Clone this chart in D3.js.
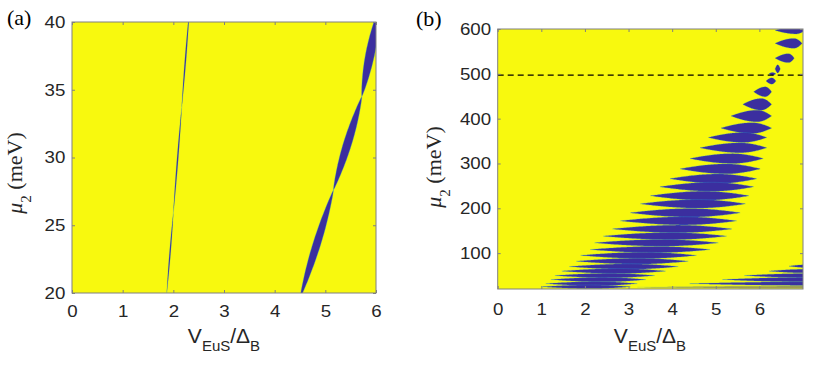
<!DOCTYPE html>
<html><head><meta charset="utf-8">
<script src="https://cdn.jsdelivr.net/npm/d3@7"></script>
<style>body{margin:0;background:#fff}svg{display:block}</style>
</head><body>
<script>
// ---------- DATA ----------
// Panel (a): thin resonance line (centre V, mu at pinch points, max half-width in V)
const aLineV  = [1.87, 2.00, 2.165, 2.32];
const aLineMu = [20, 25.9, 33.7, 41];
const aLineW  = [0.012, 0.013, 0.013];
// Panel (a): broad band
const aBandV  = [4.50, 5.16, 5.72, 6.06];
const aBandMu = [19.6, 27.6, 34.5, 41];
const aBandW  = [0.08, 0.085, 0.09];
const aXTicks = [0,1,2,3,4,5,6];
const aYTicks = [20,25,30,35,40];

// Panel (b): main fan of lenses
const bMu    = [597,568,535,511,500,484,460,432,406,379,358,335,311,288,266,248,228,210,190,172,154,138,123,108,95,82,70,60,50,41,32,25];
const bLeft  = [6.36,6.36,6.36,6.36,6.22,6.15,5.87,5.62,5.35,5.12,4.83,4.64,4.41,4.18,3.95,3.72,3.50,3.27,3.04,2.81,2.63,2.42,2.22,2.12,1.90,1.80,1.64,1.47,1.31,1.22,1.10,1.00];
const bRight = [7.05,6.98,6.80,6.48,6.38,6.38,6.28,6.28,6.28,6.28,6.17,6.17,6.09,6.02,5.94,5.87,5.76,5.68,5.56,5.48,5.37,5.25,5.06,4.87,4.56,4.37,4.14,3.85,3.60,3.40,3.20,3.05];
const bHalf  = [8,11,10,9,3,7,11,13,13,12,11,11,11,11,10.5,10,10,9.5,9.5,9,8.5,8,7.5,7,7,6.5,6,5.5,5,5,4.5,4];
const bPeak  = [0.7,0.7,0.7,0.5,0.5,0.6,0.65,0.65,0.65,0.62,0.6,0.6,0.58,0.58,0.56,0.56,0.55,0.55,0.55,0.55,0.55,0.55,0.55,0.55,0.55,0.55,0.55,0.55,0.55,0.55,0.55,0.55];
// Panel (b): lower-right family
const cMu    = [71,60,50,41,32,24];
const cLeft  = [6.68,6.22,5.65,5.15,4.40,3.20];
const cRight = [7.05,7.05,7.05,7.05,7.05,7.05];
const cHalf  = [3,4,4.5,5,4,2.5];
const bXTicks = [0,1,2,3,4,5,6];
const bYTicks = [100,200,300,400,500,600];
const bDash = 497;

// ---------- STYLE ----------
const YELLOW = "#f8f90e", BLUE = "#3b2e9f", EDGE = "#2aa6d8", AX = "#808080", TXT = "#262626";
const W = 830, H = 370;
const svg = d3.select("body").append("svg").attr("width", W).attr("height", H);
svg.append("rect").attr("width", W).attr("height", H).attr("fill", "#fff");

const xa = d3.scaleLinear([0, 6], [72, 376]);
const ya = d3.scaleLinear([20, 40], [293, 22]);
const xb = d3.scaleLinear([0, 7], [497.7, 803]);
const yb = d3.scaleLinear([20, 600], [289, 29]);

function panel(id, xs, ys) {
  const [x0, x1] = xs.range(), [y1, y0] = ys.range();
  svg.append("clipPath").attr("id", id).append("rect")
    .attr("x", x0).attr("y", y0).attr("width", x1 - x0).attr("height", y1 - y0);
  const g = svg.append("g");
  g.append("rect").attr("x", x0).attr("y", y0).attr("width", x1 - x0).attr("height", y1 - y0).attr("fill", YELLOW);
  return g.append("g").attr("clip-path", `url(#${id})`);
}

// slanted band made of pinched segments (panel a)
function band(g, vs, mus, ws, xs, ys, sw) {
  const area = d3.area().y(d => ys(d.mu)).x0(d => xs(d.v - d.w)).x1(d => xs(d.v + d.w));
  for (let i = 0; i < vs.length - 1; i++) {
    const pts = d3.range(0, 1.0001, 1 / 40).map(t => ({
      v: vs[i] + t * (vs[i + 1] - vs[i]),
      mu: mus[i] + t * (mus[i + 1] - mus[i]),
      w: ws[i] * Math.pow(Math.sin(Math.PI * t), 0.8)
    }));
    g.append("path").attr("d", area(pts)).attr("fill", BLUE)
      .attr("stroke", EDGE).attr("stroke-width", sw).attr("stroke-opacity", 0.6);
  }
}

// horizontal lens (panel b)
function lens(g, mu, vl, vr, half, p, xs, ys, op) {
  const area = d3.area().x(d => xs(d.v)).y0(d => ys(mu - d.h)).y1(d => ys(mu + d.h));
  const pts = d3.range(0, 1.0001, 1 / 80).map(t => {
    const s = p >= 1 ? t : (t <= p ? t / p : (1 - t) / (1 - p));
    return { v: vl + t * (vr - vl), h: half * Math.pow(Math.sin(Math.PI / 2 * s), 0.95) };
  });
  g.append("path").attr("d", area(pts)).attr("fill", BLUE).attr("fill-opacity", op)
    .attr("stroke", EDGE).attr("stroke-width", 0.5).attr("stroke-opacity", 0.5 * op);
}

function axes(xs, ys, xt, yt, xpad) {
  const [x0, x1] = xs.range(), [y1, y0] = ys.range();
  const g = svg.append("g");
  const style = sel => {
    sel.select(".domain").remove();
    sel.selectAll("line").attr("stroke", AX);
  };
  g.append("g").attr("transform", `translate(0,${y1})`)
    .call(d3.axisBottom(xs).tickValues(xt).tickSize(-3).tickPadding(xpad).tickFormat(d3.format("d")))
    .call(style);
  g.append("g").attr("transform", `translate(0,${y0})`)
    .call(d3.axisTop(xs).tickValues(xt).tickSize(-3).tickFormat("")).call(style);
  g.append("g").attr("transform", `translate(${x0},0)`)
    .call(d3.axisLeft(ys).tickValues(yt).tickSize(-3).tickPadding(6).tickFormat(d3.format("d")))
    .call(style);
  g.append("g").attr("transform", `translate(${x1},0)`)
    .call(d3.axisRight(ys).tickValues(yt).tickSize(-3).tickFormat("")).call(style);
  g.selectAll("text").attr("font-family", "'Liberation Sans', Arial, sans-serif")
    .attr("font-size", 17).attr("fill", TXT).attr("transform", "scale(1.1,1)");
  g.append("rect").attr("x", x0).attr("y", y0).attr("width", x1 - x0).attr("height", y1 - y0)
    .attr("fill", "none").attr("stroke", AX).attr("stroke-width", 1);
}

// ---------- PANEL (a) ----------
const ga = panel("clipA", xa, ya);
band(ga, aLineV, aLineMu, aLineW, xa, ya, 0.3);
band(ga, aBandV, aBandMu, aBandW, xa, ya, 0.5);
axes(xa, ya, aXTicks, aYTicks, 12);

// ---------- PANEL (b) ----------
const gb = panel("clipB", xb, yb);
bMu.forEach((m, i) => lens(gb, m, bLeft[i], bRight[i], bHalf[i], bPeak[i], xb, yb, 1));
cMu.forEach((m, i) => lens(gb, m, cLeft[i], cRight[i], cHalf[i], 1, xb, yb, i === cMu.length - 1 ? 0.45 : 1));
gb.append("path").attr("d", d3.line()([[xb(0), yb(bDash)], [xb(7), yb(bDash)]]))
  .attr("stroke", "#000").attr("stroke-width", 1.3).attr("stroke-dasharray", "6,4").attr("fill", "none");
axes(xb, yb, bXTicks, bYTicks, 14);

// ---------- LABELS ----------
function xlabel(cx, by) {
  const t = svg.append("text").attr("x", cx).attr("y", by).attr("text-anchor", "middle")
    .attr("font-family", "'Liberation Sans', Arial, sans-serif").attr("font-size", 21).attr("fill", TXT);
  t.append("tspan").text("V");
  t.append("tspan").attr("font-size", 15).attr("dy", 8).text("EuS");
  t.append("tspan").attr("dy", -8).text("/Δ");
  t.append("tspan").attr("font-size", 15).attr("dy", 8).text("B");
}
function ylabel(bx, cy) {
  const t = svg.append("text").attr("transform", `translate(${bx},${cy}) rotate(-90)`).attr("text-anchor", "middle")
    .attr("font-family", "'Liberation Serif', 'Times New Roman', serif").attr("font-size", 22).attr("fill", TXT);
  t.append("tspan").attr("font-style", "italic").text("μ");
  t.append("tspan").attr("font-size", 15).attr("dy", 9).text("2");
  t.append("tspan").attr("dy", -9).text(" (meV)");
}
xlabel(224, 343);
xlabel(650, 343);
ylabel(22, 173);
ylabel(441, 167);
svg.append("text").attr("x", 7).attr("y", 25).attr("font-family", "'Liberation Serif', 'Times New Roman', serif")
  .attr("font-size", 22).attr("fill", "#000").text("(a)");
svg.append("text").attr("x", 416).attr("y", 26).attr("font-family", "'Liberation Serif', 'Times New Roman', serif")
  .attr("font-size", 22).attr("fill", "#000").text("(b)");
</script>
</body></html>
